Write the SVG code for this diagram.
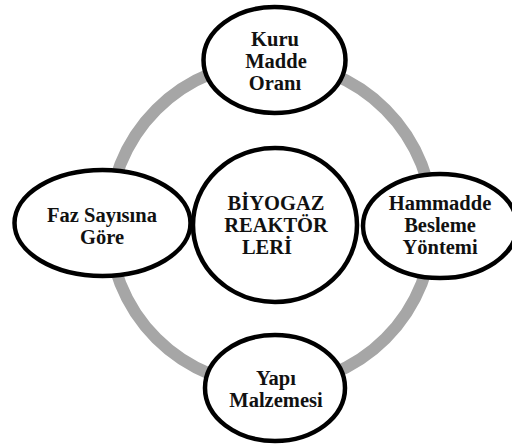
<svg xmlns="http://www.w3.org/2000/svg" width="512" height="446" viewBox="0 0 512 446">
<style>
.n{fill:#fff;stroke:#000;stroke-width:4.5}
.t{font-weight:bold;font-size:20.5px;fill:#111;text-anchor:middle}
</style>
<rect width="512" height="446" fill="#fff"/>
<g id="connectors">
<circle cx="271" cy="224" r="162" fill="none" stroke="#a6a6a6" stroke-width="12"/>
</g>
<g id="node-center">
<ellipse class="n" cx="275" cy="225" rx="82" ry="77"/>
<text class="t" font-family="Liberation Serif, Times New Roman, DejaVu Serif, serif"><tspan x="276" y="210">BİYOGAZ</tspan><tspan x="276" y="232">REAKTÖR</tspan><tspan x="267" y="254">LERİ</tspan></text>
</g>
<g id="node-top">
<ellipse class="n" cx="274.5" cy="60" rx="71" ry="53"/>
<text class="t" font-family="Liberation Serif, Times New Roman, DejaVu Serif, serif"><tspan x="275" y="46">Kuru</tspan><tspan x="276" y="68">Madde</tspan><tspan x="275" y="90">Oranı</tspan></text>
</g>
<g id="node-left">
<ellipse class="n" cx="102.5" cy="223" rx="88" ry="53"/>
<text class="t" font-family="Liberation Serif, Times New Roman, DejaVu Serif, serif"><tspan x="102" y="222">Faz Sayısına</tspan><tspan x="102" y="244">Göre</tspan></text>
</g>
<g id="node-right">
<ellipse class="n" cx="440" cy="226" rx="77" ry="52"/>
<text class="t" font-family="Liberation Serif, Times New Roman, DejaVu Serif, serif"><tspan x="440" y="210">Hammadde</tspan><tspan x="440" y="232">Besleme</tspan><tspan x="440" y="254">Yöntemi</tspan></text>
</g>
<g id="node-bottom">
<ellipse class="n" cx="275" cy="388" rx="70" ry="53"/>
<text class="t" font-family="Liberation Serif, Times New Roman, DejaVu Serif, serif"><tspan x="276" y="385">Yapı</tspan><tspan x="276" y="407">Malzemesi</tspan></text>
</g>
</svg>
